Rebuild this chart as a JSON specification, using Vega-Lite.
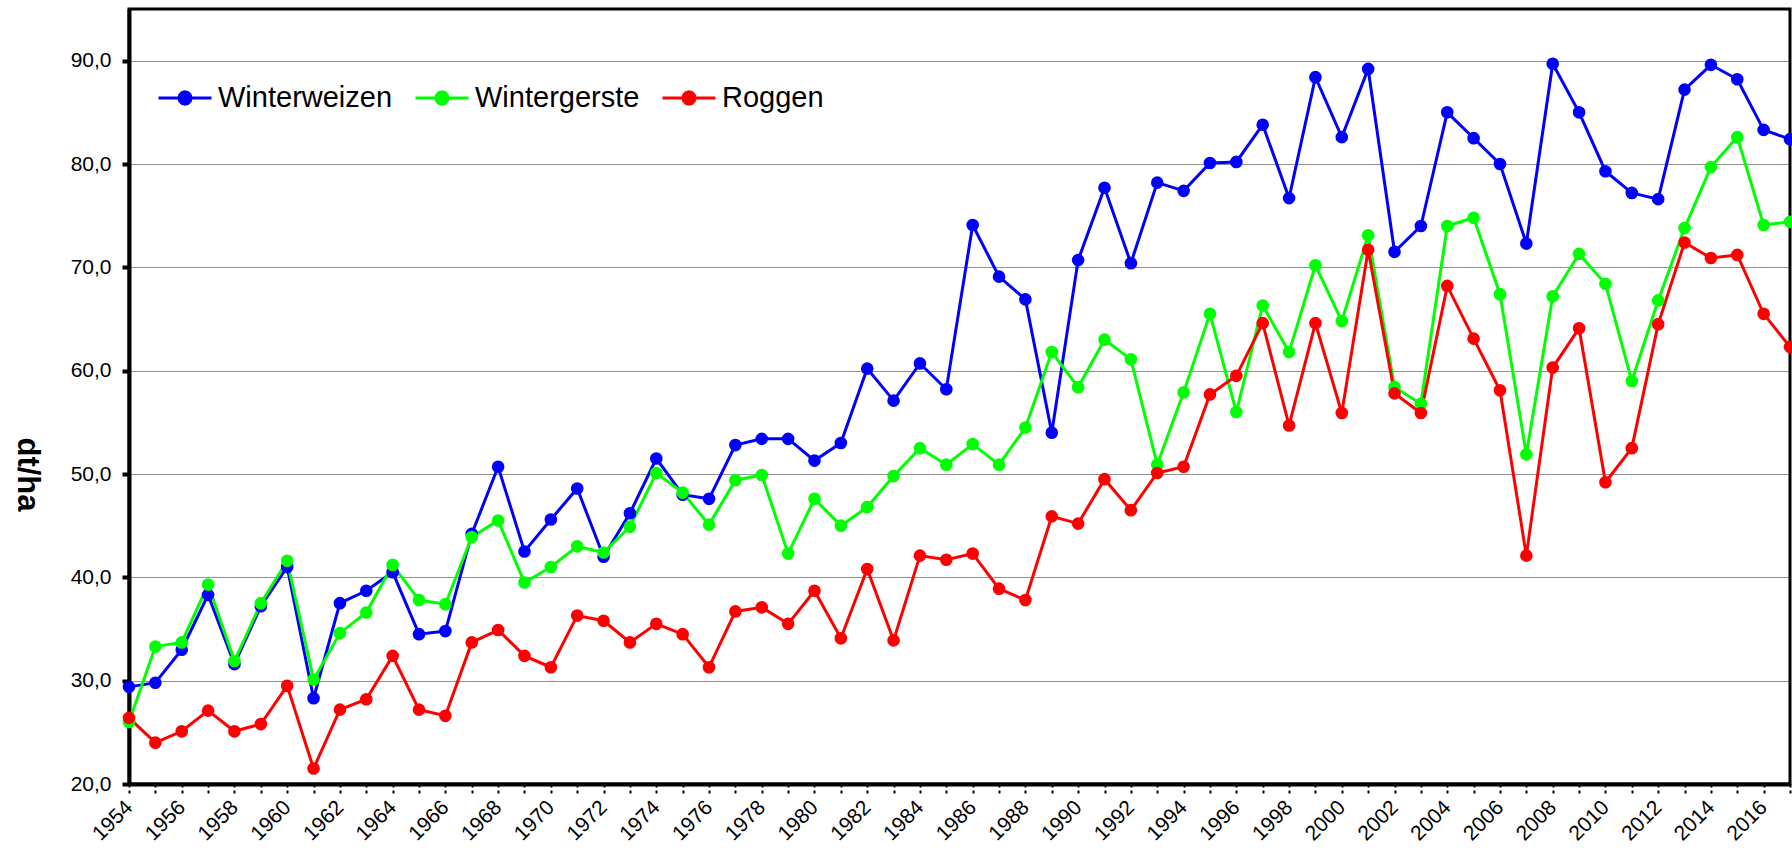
{
  "$schema": "https://vega.github.io/schema/vega-lite/v6.json",
  "autosize": {"type": "none"},
  "padding": {"left": 129, "top": 9, "right": 2, "bottom": 64},
  "width": 1661,
  "height": 775,
  "background": "white",
  "config": {
    "font": "Liberation Sans",
    "view": {"stroke": "black", "strokeWidth": 3},
    "axis": {"labelColor": "black", "titleColor": "black", "domainColor": "black", "tickColor": "black"}
  },
  "data": {
    "values": [
      {"Jahr": 1954, "Winterweizen": 29.4, "Wintergerste": 26.0, "Roggen": 26.4},
      {"Jahr": 1955, "Winterweizen": 29.8, "Wintergerste": 33.3, "Roggen": 24.0},
      {"Jahr": 1956, "Winterweizen": 33.0, "Wintergerste": 33.7, "Roggen": 25.1},
      {"Jahr": 1957, "Winterweizen": 38.3, "Wintergerste": 39.3, "Roggen": 27.1},
      {"Jahr": 1958, "Winterweizen": 31.6, "Wintergerste": 31.9, "Roggen": 25.1},
      {"Jahr": 1959, "Winterweizen": 37.2, "Wintergerste": 37.5, "Roggen": 25.8},
      {"Jahr": 1960, "Winterweizen": 41.0, "Wintergerste": 41.6, "Roggen": 29.5},
      {"Jahr": 1961, "Winterweizen": 28.3, "Wintergerste": 30.1, "Roggen": 21.5},
      {"Jahr": 1962, "Winterweizen": 37.5, "Wintergerste": 34.6, "Roggen": 27.2},
      {"Jahr": 1963, "Winterweizen": 38.7, "Wintergerste": 36.6, "Roggen": 28.2},
      {"Jahr": 1964, "Winterweizen": 40.5, "Wintergerste": 41.2, "Roggen": 32.4},
      {"Jahr": 1965, "Winterweizen": 34.5, "Wintergerste": 37.8, "Roggen": 27.2},
      {"Jahr": 1966, "Winterweizen": 34.8, "Wintergerste": 37.4, "Roggen": 26.6},
      {"Jahr": 1967, "Winterweizen": 44.2, "Wintergerste": 43.9, "Roggen": 33.7},
      {"Jahr": 1968, "Winterweizen": 50.7, "Wintergerste": 45.5, "Roggen": 34.9},
      {"Jahr": 1969, "Winterweizen": 42.5, "Wintergerste": 39.5, "Roggen": 32.4},
      {"Jahr": 1970, "Winterweizen": 45.6, "Wintergerste": 41.0, "Roggen": 31.3},
      {"Jahr": 1971, "Winterweizen": 48.6, "Wintergerste": 43.0, "Roggen": 36.3},
      {"Jahr": 1972, "Winterweizen": 42.0, "Wintergerste": 42.4, "Roggen": 35.8},
      {"Jahr": 1973, "Winterweizen": 46.2, "Wintergerste": 44.9, "Roggen": 33.7},
      {"Jahr": 1974, "Winterweizen": 51.5, "Wintergerste": 50.1, "Roggen": 35.5},
      {"Jahr": 1975, "Winterweizen": 48.0, "Wintergerste": 48.2, "Roggen": 34.5},
      {"Jahr": 1976, "Winterweizen": 47.6, "Wintergerste": 45.1, "Roggen": 31.3},
      {"Jahr": 1977, "Winterweizen": 52.8, "Wintergerste": 49.4, "Roggen": 36.7},
      {"Jahr": 1978, "Winterweizen": 53.4, "Wintergerste": 49.9, "Roggen": 37.1},
      {"Jahr": 1979, "Winterweizen": 53.4, "Wintergerste": 42.3, "Roggen": 35.5},
      {"Jahr": 1980, "Winterweizen": 51.3, "Wintergerste": 47.6, "Roggen": 38.7},
      {"Jahr": 1981, "Winterweizen": 53.0, "Wintergerste": 45.0, "Roggen": 34.1},
      {"Jahr": 1982, "Winterweizen": 60.2, "Wintergerste": 46.8, "Roggen": 40.8},
      {"Jahr": 1983, "Winterweizen": 57.1, "Wintergerste": 49.8, "Roggen": 33.9},
      {"Jahr": 1984, "Winterweizen": 60.7, "Wintergerste": 52.5, "Roggen": 42.1},
      {"Jahr": 1985, "Winterweizen": 58.2, "Wintergerste": 50.9, "Roggen": 41.7},
      {"Jahr": 1986, "Winterweizen": 74.1, "Wintergerste": 52.9, "Roggen": 42.3},
      {"Jahr": 1987, "Winterweizen": 69.1, "Wintergerste": 50.9, "Roggen": 38.9},
      {"Jahr": 1988, "Winterweizen": 66.9, "Wintergerste": 54.5, "Roggen": 37.8},
      {"Jahr": 1989, "Winterweizen": 54.0, "Wintergerste": 61.8, "Roggen": 45.9},
      {"Jahr": 1990, "Winterweizen": 70.7, "Wintergerste": 58.4, "Roggen": 45.2},
      {"Jahr": 1991, "Winterweizen": 77.7, "Wintergerste": 63.0, "Roggen": 49.5},
      {"Jahr": 1992, "Winterweizen": 70.4, "Wintergerste": 61.1, "Roggen": 46.5},
      {"Jahr": 1993, "Winterweizen": 78.2, "Wintergerste": 50.9, "Roggen": 50.1},
      {"Jahr": 1994, "Winterweizen": 77.4, "Wintergerste": 57.9, "Roggen": 50.7},
      {"Jahr": 1995, "Winterweizen": 80.1, "Wintergerste": 65.5, "Roggen": 57.7},
      {"Jahr": 1996, "Winterweizen": 80.2, "Wintergerste": 56.0, "Roggen": 59.5},
      {"Jahr": 1997, "Winterweizen": 83.8, "Wintergerste": 66.3, "Roggen": 64.6},
      {"Jahr": 1998, "Winterweizen": 76.7, "Wintergerste": 61.8, "Roggen": 54.7},
      {"Jahr": 1999, "Winterweizen": 88.4, "Wintergerste": 70.2, "Roggen": 64.6},
      {"Jahr": 2000, "Winterweizen": 82.6, "Wintergerste": 64.8, "Roggen": 55.9},
      {"Jahr": 2001, "Winterweizen": 89.2, "Wintergerste": 73.1, "Roggen": 71.7},
      {"Jahr": 2002, "Winterweizen": 71.5, "Wintergerste": 58.4, "Roggen": 57.8},
      {"Jahr": 2003, "Winterweizen": 74.0, "Wintergerste": 56.8, "Roggen": 55.9},
      {"Jahr": 2004, "Winterweizen": 85.0, "Wintergerste": 74.0, "Roggen": 68.2},
      {"Jahr": 2005, "Winterweizen": 82.5, "Wintergerste": 74.8, "Roggen": 63.1},
      {"Jahr": 2006, "Winterweizen": 80.0, "Wintergerste": 67.4, "Roggen": 58.1},
      {"Jahr": 2007, "Winterweizen": 72.3, "Wintergerste": 51.9, "Roggen": 42.1},
      {"Jahr": 2008, "Winterweizen": 89.7, "Wintergerste": 67.2, "Roggen": 60.3},
      {"Jahr": 2009, "Winterweizen": 85.0, "Wintergerste": 71.3, "Roggen": 64.1},
      {"Jahr": 2010, "Winterweizen": 79.3, "Wintergerste": 68.4, "Roggen": 49.2},
      {"Jahr": 2011, "Winterweizen": 77.2, "Wintergerste": 59.0, "Roggen": 52.5},
      {"Jahr": 2012, "Winterweizen": 76.6, "Wintergerste": 66.8, "Roggen": 64.5},
      {"Jahr": 2013, "Winterweizen": 87.2, "Wintergerste": 73.8, "Roggen": 72.4},
      {"Jahr": 2014, "Winterweizen": 89.6, "Wintergerste": 79.7, "Roggen": 70.9},
      {"Jahr": 2015, "Winterweizen": 88.2, "Wintergerste": 82.6, "Roggen": 71.2},
      {"Jahr": 2016, "Winterweizen": 83.3, "Wintergerste": 74.1, "Roggen": 65.5},
      {"Jahr": 2017, "Winterweizen": 82.4, "Wintergerste": 74.4, "Roggen": 62.3}
    ]
  },
  "transform": [
    {"fold": ["Winterweizen", "Wintergerste", "Roggen"], "as": ["Sorte", "Ertrag"]}
  ],
  "mark": {"type": "line", "strokeWidth": 3, "clip": false, "point": {"filled": true, "size": 160, "opacity": 1}},
  "encoding": {
    "x": {
      "field": "Jahr",
      "type": "quantitative",
      "scale": {"domain": [1954, 2017], "nice": false, "zero": false},
      "axis": {
        "title": null,
        "values": [1954,1955,1956,1957,1958,1959,1960,1961,1962,1963,1964,1965,1966,1967,1968,1969,1970,1971,1972,1973,1974,1975,1976,1977,1978,1979,1980,1981,1982,1983,1984,1985,1986,1987,1988,1989,1990,1991,1992,1993,1994,1995,1996,1997,1998,1999,2000,2001,2002,2003,2004,2005,2006,2007,2008,2009,2010,2011,2012,2013,2014,2015,2016,2017],
        "format": "d",
        "labelExpr": "datum.value % 2 === 0 ? datum.label : ''",
        "labelOverlap": false,
        "labelFlush": false,
        "labelAngle": -45,
        "labelAlign": "right",
        "labelBaseline": "middle",
        "labelFontSize": 21,
        "labelPadding": 11,
        "grid": false,
        "domainWidth": 4,
        "tickSize": 9,
        "tickWidth": 2,
        "tickDash": [3, 3]
      }
    },
    "y": {
      "field": "Ertrag",
      "type": "quantitative",
      "scale": {"domain": [20, 95], "nice": false, "zero": false},
      "axis": {
        "title": "dt/ha",
        "titleAngle": 90,
        "titleFontSize": 31,
        "titleFontWeight": "bold",
        "titleX": -103,
        "titleY": 465,
        "titleAlign": "center",
        "titleBaseline": "middle",
        "values": [20, 30, 40, 50, 60, 70, 80, 90],
        "labelExpr": "replace(format(datum.value, '.1f'), '.', ',')",
        "labelFontSize": 21,
        "labelPadding": 11,
        "domainWidth": 4,
        "tickSize": 7,
        "tickWidth": 4,
        "grid": true,
        "gridColor": "#222",
        "gridDash": [1, 1],
        "gridWidth": 1
      }
    },
    "color": {
      "field": "Sorte",
      "type": "nominal",
      "scale": {"domain": ["Winterweizen", "Wintergerste", "Roggen"], "range": ["#0000FF", "#00FF00", "#FF0000"]},
      "legend": {
        "title": null,
        "orient": "none",
        "direction": "horizontal",
        "legendX": 28,
        "legendY": 61,
        "padding": 0,
        "labelFontSize": 29,
        "labelLimit": 600,
        "labelColor": "black",
        "labelOffset": 5,
        "columnPadding": 16,
        "symbolSize": 2809,
        "symbolStrokeWidth": 3,
        "symbolType": "M-1,0L1,0M0.23,0L0.2,0.115L0.115,0.2L0,0.23L-0.115,0.2L-0.2,0.115L-0.23,0L-0.2,-0.115L-0.115,-0.2L0,-0.23L0.115,-0.2L0.2,-0.115Z",
        "encode": {
          "symbols": {
            "update": {
              "fill": {"scale": "color", "field": "value"},
              "stroke": {"scale": "color", "field": "value"},
              "fillOpacity": {"value": 1},
              "strokeOpacity": {"value": 1},
              "opacity": {"value": 1}
            }
          }
        }
      }
    }
  }
}
